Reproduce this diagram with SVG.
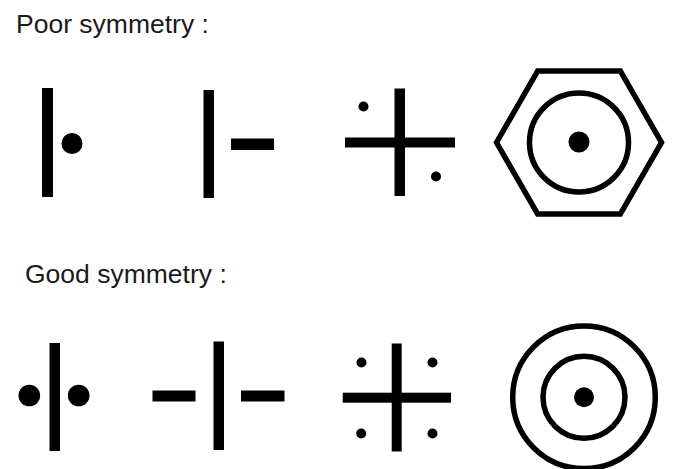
<svg xmlns="http://www.w3.org/2000/svg" width="676" height="469" viewBox="0 0 676 469">
<style>
.t{font-family:"Liberation Sans",Arial,sans-serif;font-size:26.5px;fill:#1a1a1a}
.f{fill:#000}
.s{fill:none;stroke:#000;stroke-width:5.5}
</style>
<rect width="676" height="469" fill="#fff"/>
<text class="t" x="16" y="33">Poor symmetry :</text>
<text class="t" x="25" y="283">Good symmetry :</text>
<g id="poor-1">
<rect class="f" x="42" y="88" width="11" height="109"/>
<circle class="f" cx="72" cy="143.5" r="10.5"/>
</g>
<g id="poor-2">
<rect class="f" x="203.5" y="90" width="10.5" height="108"/>
<rect class="f" x="231" y="138.5" width="43" height="11.5"/>
</g>
<g id="poor-3">
<rect class="f" x="394.5" y="88.5" width="10.5" height="107.5"/>
<rect class="f" x="345" y="137.5" width="110" height="10"/>
<circle class="f" cx="363.5" cy="106.5" r="5"/>
<circle class="f" cx="436" cy="176.5" r="5"/>
</g>
<g id="poor-4">
<polygon class="s" stroke-width="6" points="496.5,142.5 537.7,71 620.3,71 661.5,142.5 620.3,214 537.7,214"/>
<circle class="s" cx="579" cy="142.5" r="49.5"/>
<circle class="f" cx="579" cy="142" r="10.5"/>
</g>
<g id="good-1">
<rect class="f" x="49.5" y="343" width="10.5" height="108"/>
<circle class="f" cx="29.3" cy="395.5" r="10.8"/>
<circle class="f" cx="78.7" cy="395.5" r="10.8"/>
</g>
<g id="good-2">
<rect class="f" x="152.5" y="390.5" width="43" height="11"/>
<rect class="f" x="213.5" y="341.5" width="10.5" height="108.5"/>
<rect class="f" x="241" y="390.5" width="43.5" height="11"/>
</g>
<g id="good-3">
<rect class="f" x="391.7" y="343.5" width="10" height="108"/>
<rect class="f" x="342.7" y="392.7" width="108.3" height="10"/>
<circle class="f" cx="361.5" cy="362.5" r="5"/>
<circle class="f" cx="432.5" cy="362.5" r="5"/>
<circle class="f" cx="361.2" cy="433.5" r="5"/>
<circle class="f" cx="432.5" cy="433.5" r="5"/>
</g>
<g id="good-4">
<circle class="s" cx="584" cy="397.3" r="71.3"/>
<circle class="s" cx="584" cy="397.3" r="41"/>
<circle class="f" cx="584" cy="397.3" r="10"/>
</g>
<g id="connectors"/>
</svg>
